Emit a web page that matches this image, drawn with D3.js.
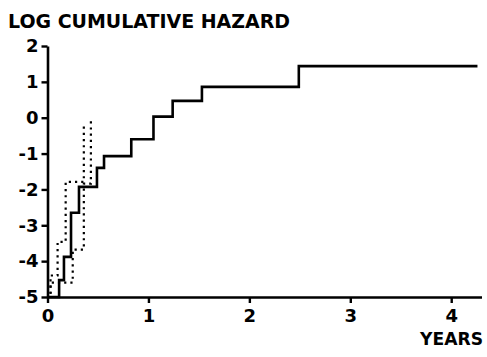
<!DOCTYPE html>
<html>
<head>
<meta charset="utf-8">
<script src="https://cdn.jsdelivr.net/npm/d3@7"></script>
<style>
  body { margin: 0; background: #fff; }
  text { font-family: "DejaVu Sans", sans-serif; font-weight: bold; fill: #000; }
</style>
</head>
<body>
<div id="chart"></div>
<script>
// solid step curve
const solidTimes = [0, 0.115, 0.163, 0.233, 0.312, 0.49, 0.56, 0.83, 1.05, 1.24, 1.53, 2.49, 4.26];
const solidValues = [-5, -4.53, -3.88, -2.65, -1.93, -1.4, -1.07, -0.6, 0.03, 0.47, 0.86, 1.44, 1.44];
// dotted curves
const dotUpperTimes = [0, 0.03, 0.10, 0.18, 0.36];
const dotUpperValues = [-5, -4.4, -3.46, -1.79, -0.2];
const dotLowerTimes = [0, 0.03, 0.25, 0.36, 0.43];
const dotLowerValues = [-5, -4.6, -3.68, -1.84, -0.06];
const yTicks = [-5, -4, -3, -2, -1, 0, 1, 2];
const xTicks = [0, 1, 2, 3, 4];

let width = 487;
let height = 357;

let svg = d3.select('#chart')
  .append("svg")
  .attr("width", width)
  .attr("height", height);

let x = d3.scaleLinear().domain([0, 4.3]).range([47.5, 481.5]);
let y = d3.scaleLinear().domain([-5, 2]).range([297, 46]);

let line = d3.line()
  .x(function (d) { return x(d[0]); })
  .y(function (d) { return y(d[1]); })
  .curve(d3.curveStepAfter);

function pairs(ts, vs) {
  return ts.map(function (t, i) { return [t, vs[i]]; });
}

// dotted lines first
[pairs(dotUpperTimes, dotUpperValues), pairs(dotLowerTimes, dotLowerValues)].forEach(function (pts) {
  svg.append("path")
    .attr("d", line(pts))
    .attr("fill", "none")
    .attr("stroke", "#000")
    .attr("stroke-width", 2.2)
    .attr("stroke-dasharray", "2.2,4")
    .attr("stroke-linecap", "butt");
});

svg.append("path")
  .attr("d", line(pairs(solidTimes, solidValues)))
  .attr("fill", "none")
  .attr("stroke", "#000")
  .attr("stroke-width", 2.6);

// axes
let yAxis = svg.append("g")
  .attr("transform", "translate(47.5,0)")
  .call(d3.axisLeft(y).tickValues(yTicks).tickSize(6).tickSizeOuter(0).tickPadding(3)
    .tickFormat(function (d) { return d < 0 ? "-" + Math.abs(d) : d; }));

let xAxis = svg.append("g")
  .attr("transform", "translate(0,297)")
  .call(d3.axisBottom(x).tickValues(xTicks).tickSize(6).tickSizeOuter(0).tickPadding(6)
    .tickFormat(d3.format("d")));

[yAxis, xAxis].forEach(function (g) {
  g.select(".domain").attr("stroke-width", 2.6).attr("stroke", "#000");
  g.selectAll(".tick line").attr("stroke-width", 2.4).attr("stroke", "#000");
  g.selectAll(".tick text")
    .attr("font-family", "DejaVu Sans")
    .attr("font-weight", "bold")
    .attr("font-size", 18)
    .attr("fill", "#000");
});

svg.append("text")
  .attr("x", 8)
  .attr("y", 28)
  .attr("font-size", 19)
  .attr("textLength", 282)
  .attr("lengthAdjust", "spacingAndGlyphs")
  .text("LOG CUMULATIVE HAZARD");

svg.append("text")
  .attr("x", 420)
  .attr("y", 345)
  .attr("font-size", 18)
  .attr("textLength", 63)
  .attr("lengthAdjust", "spacingAndGlyphs")
  .text("YEARS");
</script>
</body>
</html>
